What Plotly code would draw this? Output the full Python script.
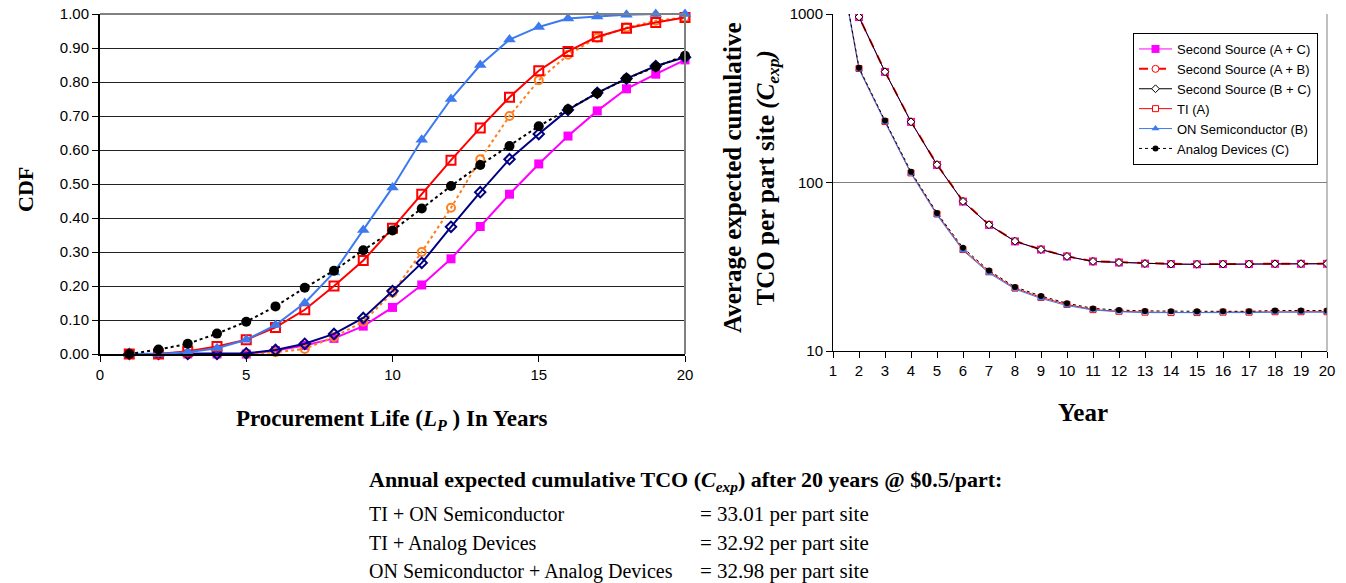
import plotly.graph_objects as go

# ---------------- data ----------------
years = list(range(1, 21))

# Left chart: CDF vs procurement life
cdf_ac = [0, 0, 0, 0, 0, 0.01, 0.025, 0.046, 0.082, 0.137, 0.203, 0.28, 0.375, 0.47, 0.559, 0.641, 0.715, 0.78, 0.823, 0.865]
cdf_ab = [0, 0, 0, 0, 0, 0.005, 0.015, 0.05, 0.095, 0.18, 0.30, 0.43, 0.573, 0.70, 0.805, 0.88, 0.93, 0.96, 0.98, 0.99]
cdf_bc = [0, 0, 0, 0, 0.002, 0.012, 0.03, 0.059, 0.106, 0.185, 0.268, 0.374, 0.476, 0.573, 0.647, 0.718, 0.768, 0.81, 0.847, 0.873]
cdf_ti = [0, 0, 0.008, 0.022, 0.042, 0.078, 0.13, 0.20, 0.275, 0.37, 0.47, 0.57, 0.665, 0.755, 0.833, 0.89, 0.933, 0.958, 0.975, 0.99]
cdf_on = [0, 0, 0.005, 0.017, 0.042, 0.085, 0.15, 0.24, 0.365, 0.49, 0.63, 0.75, 0.85, 0.925, 0.962, 0.987, 0.993, 0.998, 1.0, 1.0]
cdf_ad = [0.0, 0.013, 0.03, 0.06, 0.095, 0.14, 0.195, 0.245, 0.305, 0.363, 0.428, 0.494, 0.556, 0.612, 0.67, 0.72, 0.767, 0.81, 0.845, 0.877]

# Right chart: average expected cumulative TCO per part site
tco_ac = [10000, 960, 453, 229, 127, 77, 56, 44.7, 40, 36.4, 34, 33.5, 33.0, 32.8, 32.7, 32.8, 32.8, 32.9, 32.9, 32.92]
tco_ab = [10000, 962, 455, 230, 128, 77.5, 56.3, 44.9, 40.1, 36.5, 34.1, 33.6, 33.1, 32.9, 32.8, 32.9, 32.9, 33.0, 33.0, 33.01]
tco_bc = [10000, 961, 454, 229, 127.5, 77.2, 56.1, 44.8, 40.0, 36.4, 34.0, 33.5, 33.0, 32.8, 32.7, 32.8, 32.8, 32.9, 32.95, 32.98]
tco_ti = [3350, 475, 230, 114, 65, 40, 29.5, 23.6, 20.8, 18.9, 17.6, 17.2, 17.0, 16.9, 16.9, 17.0, 17.0, 17.1, 17.1, 17.1]
tco_on = [3300, 470, 228, 113, 64, 39.5, 29, 23.3, 20.5, 18.6, 17.5, 17.1, 16.9, 16.9, 16.8, 16.9, 16.9, 17.0, 17.0, 17.0]
tco_ad = [3400, 480, 233, 116, 66, 41, 30, 24, 21.2, 19.2, 17.9, 17.5, 17.3, 17.2, 17.2, 17.2, 17.2, 17.4, 17.4, 17.4]

series_names = ["Second Source (A + C)", "Second Source (A + B)", "Second Source (B + C)",
                "TI (A)", "ON Semiconductor (B)", "Analog Devices (C)"]

summary_labels = ["TI + ON Semiconductor", "TI + Analog Devices", "ON Semiconductor + Analog Devices"]
summary_values = [33.01, 32.92, 32.98]

cdf_ticks = [i / 10 for i in range(11)]
cdf_ticktext = ["%.2f" % v for v in cdf_ticks]

# ---------------- styles ----------------
W, H = 1346, 583
SANS = "Liberation Sans, Arial, sans-serif"
SERIF = "Liberation Serif, Times New Roman, serif"

left_styles = [
    dict(line=dict(color="#FF00FF", width=2), marker=dict(symbol="square", size=9, color="#FF00FF")),
    dict(line=dict(color="#FF7F1E", width=2, dash="dot"), marker=dict(symbol="circle-open", size=8, color="#FF7F1E", line=dict(width=2))),
    dict(line=dict(color="#000080", width=2), marker=dict(symbol="diamond-open", size=8, color="#000080", line=dict(width=2))),
    dict(line=dict(color="#FF0000", width=2), marker=dict(symbol="square-open", size=9, color="#FF0000", line=dict(width=2))),
    dict(line=dict(color="#3D7AF0", width=2), marker=dict(symbol="triangle-up", size=11, color="#3D7AF0")),
    dict(line=dict(color="#000000", width=2, dash="dot"), marker=dict(symbol="circle", size=10, color="#000000")),
]

right_styles = [
    dict(line=dict(color="#FF00FF", width=1), marker=dict(symbol="square", size=8, color="#FF00FF")),
    dict(line=dict(color="#FF0000", width=2, dash="dash"), marker=dict(symbol="circle", size=7, color="#FFFFFF", line=dict(color="#FF0000", width=1))),
    dict(line=dict(color="#000000", width=1), marker=dict(symbol="diamond", size=6, color="#FFFFFF", line=dict(color="#000000", width=1))),
    dict(line=dict(color="#FF0000", width=1), marker=dict(symbol="square", size=6, color="#FFFFFF", line=dict(color="#FF0000", width=1))),
    dict(line=dict(color="#3D7AF0", width=1), marker=dict(symbol="triangle-up", size=7, color="#3D7AF0")),
    dict(line=dict(color="#000000", width=1, dash="dot"), marker=dict(symbol="circle", size=6, color="#000000")),
]

fig = go.Figure()

left_data = [cdf_ac, cdf_ab, cdf_bc, cdf_ti, cdf_on, cdf_ad]
for name, ys, st in zip(series_names, left_data, left_styles):
    fig.add_trace(go.Scatter(x=years, y=ys, mode="lines+markers", name=name, showlegend=False,
                             xaxis="x", yaxis="y", cliponaxis=False, **st))

right_data = [tco_ac, tco_ab, tco_bc, tco_ti, tco_on, tco_ad]
for name, ys, st in zip(series_names, right_data, right_styles):
    fig.add_trace(go.Scatter(x=years, y=ys, mode="lines+markers", name=name, showlegend=True,
                             xaxis="x2", yaxis="y2", cliponaxis=True, **st))

# domains (pixel-based)
lx0, lx1 = 100 / W, 685 / W
ly0, ly1 = (H - 354) / H, (H - 14) / H
rx0, rx1 = 833 / W, 1327 / W
ry0, ry1 = (H - 351) / H, (H - 14) / H

tickfont = dict(family=SANS, size=15, color="#000000")

fig.update_layout(
    template="none",
    width=W, height=H,
    margin=dict(l=0, r=0, t=0, b=0, autoexpand=False),
    paper_bgcolor="white", plot_bgcolor="white",
    font=dict(family=SANS, color="#000000"),
    xaxis=dict(domain=[lx0, lx1], range=[0, 20], tickvals=[0, 5, 10, 15, 20], automargin=False,
               showgrid=False, zeroline=False, showline=True, linecolor="#000000", linewidth=2,
               ticks="outside", ticklen=6, tickwidth=1, tickcolor="#000000", tickfont=tickfont, anchor="y"),
    yaxis=dict(domain=[ly0, ly1], range=[0, 1], tickvals=cdf_ticks, ticktext=cdf_ticktext, automargin=False,
               showgrid=True, gridcolor="#222222", gridwidth=1, zeroline=False,
               showline=True, linecolor="#000000", linewidth=2,
               ticks="outside", ticklen=6, tickwidth=1, tickcolor="#000000", tickfont=tickfont, anchor="x"),
    xaxis2=dict(domain=[rx0, rx1], range=[1, 20], tickvals=years, automargin=False,
                showgrid=False, zeroline=False, showline=True, linecolor="#000000", linewidth=1,
                ticks="outside", ticklen=6, tickwidth=1, tickcolor="#000000", tickfont=tickfont, anchor="y2"),
    yaxis2=dict(domain=[ry0, ry1], type="log", range=[1, 3], tickvals=[10, 100, 1000], automargin=False,
                ticktext=["10", "100", "1000"],
                showgrid=True, gridcolor="#808080", gridwidth=1, zeroline=False,
                showline=True, linecolor="#000000", linewidth=1,
                ticks="outside", ticklen=6, tickwidth=1, tickcolor="#000000", tickfont=tickfont, anchor="x2"),
    legend=dict(x=1133 / W, y=1 - 33 / H, xanchor="left", yanchor="top",
                bgcolor="white", bordercolor="#000000", borderwidth=1,
                font=dict(family=SANS, size=13, color="#000000"),
                tracegroupgap=0, itemwidth=33),
    showlegend=True,
)

# right border lines (gray) and top line of left chart
shapes = [
    dict(type="line", xref="x domain", yref="y domain", x0=1, x1=1, y0=0, y1=1,
         line=dict(color="#808080", width=2)),
    dict(type="line", xref="x domain", yref="y domain", x0=0, x1=1, y0=1, y1=1,
         line=dict(color="#808080", width=2)),
    dict(type="line", xref="x2 domain", yref="y2 domain", x0=1, x1=1, y0=0, y1=1,
         line=dict(color="#808080", width=1)),
]
fig.update_layout(shapes=shapes)

ann = []
# Axis titles
ann.append(dict(text="<b>CDF</b>", x=25 / W, y=1 - 190 / H, xref="paper", yref="paper",
                textangle=-90, showarrow=False, xanchor="center", yanchor="middle",
                font=dict(family=SERIF, size=22, color="#000000")))
ann.append(dict(text="<b>Procurement Life (<i>L</i><sub><i>P</i></sub> ) In Years</b>",
                x=392 / W, y=1 - 420 / H, xref="paper", yref="paper", showarrow=False,
                xanchor="center", yanchor="middle", font=dict(family=SERIF, size=23, color="#000000")))
ann.append(dict(text="<b>Average expected cumulative<br>TCO per part site <i>(C<sub>exp</sub>)</i></b>",
                x=751 / W, y=1 - 178 / H, xref="paper", yref="paper", textangle=-90, showarrow=False,
                xanchor="center", yanchor="middle", align="center",
                font=dict(family=SERIF, size=25, color="#000000")))
ann.append(dict(text="<b>Year</b>", x=1083 / W, y=1 - 412 / H, xref="paper", yref="paper",
                showarrow=False, xanchor="center", yanchor="middle",
                font=dict(family=SERIF, size=25, color="#000000")))

# Summary text
ann.append(dict(text="<b>Annual expected cumulative TCO (<i>C<sub>exp</sub></i>) after 20 years @ $0.5/part:</b>",
                x=367 / W, y=1 - 481 / H, xref="paper", yref="paper", showarrow=False,
                xanchor="left", yanchor="middle", font=dict(family=SERIF, size=22, color="#000000")))
row_y = [514, 543, 571]
for lab, val, yy in zip(summary_labels, summary_values, row_y):
    ann.append(dict(text=lab, x=367 / W, y=1 - yy / H, xref="paper", yref="paper", showarrow=False,
                    xanchor="left", yanchor="middle", font=dict(family=SERIF, size=20, color="#000000")))
    ann.append(dict(text="= %.2f per part site" % val, x=698 / W, y=1 - yy / H, xref="paper", yref="paper",
                    showarrow=False, xanchor="left", yanchor="middle",
                    font=dict(family=SERIF, size=21, color="#000000")))
fig.update_layout(annotations=ann)

fig.write_html("out.html")
